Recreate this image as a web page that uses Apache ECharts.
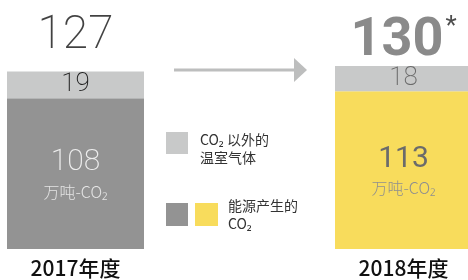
<!DOCTYPE html>
<html>
<head>
<meta charset="utf-8">
<script src="https://cdn.jsdelivr.net/npm/echarts@6/dist/echarts.min.js"></script>
<style>
  html, body { margin: 0; padding: 0; background: #fff; }
  #chart { width: 468px; height: 280px; }
</style>
</head>
<body>
<div id="chart"></div>
<script>
// 年度温室气体排放量 (万吨-CO2)
// 两个年度之间留两个空类目，给箭头和图例腾位置
const categories = ['2017年度', '', '', '2018年度'];
const energyCO2 = [108, '-', '-', 113];   // 能源产生的CO2
const otherGas = [19, '-', '-', 18];      // CO2以外的温室气体
const totals = [127, '-', '-', 130];
const totalMarks = ['', '', '', '*'];
const unit = '万吨-CO₂';

const digitFont = "Roboto, 'Noto Sans', sans-serif";
const cjkFont = "'Noto Sans CJK SC', 'Noto Sans', sans-serif";

const chart = echarts.init(document.getElementById('chart'));

const energyColors = ['#939393', null, null, '#f8dc5c'];
const energyText = [
  { n: '#eeeeee', u: '#e4e4e4', w: 200 },
  null, null,
  { n: '#6b6b6b', u: '#8f8f8f', w: 400 }
];

chart.setOption({
  animation: false,
  grid: { left: 20.83, right: 9.83, top: 39.5, bottom: 31 },
  xAxis: {
    type: 'category',
    data: categories,
    axisLine: { show: false },
    axisTick: { show: false },
    axisLabel: {
      interval: 0,
      margin: 9,
      fontFamily: cjkFont,
      fontSize: 21,
      fontWeight: 500,
      color: '#111'
    }
  },
  yAxis: { type: 'value', min: 0, max: 150, show: false },
  series: [
    {
      name: '能源产生的CO2',
      type: 'bar',
      stack: 'total',
      barWidth: 137,
      clip: false,
      data: energyCO2.map((v, i) => v === '-' ? v : ({
        value: v,
        itemStyle: { color: energyColors[i] },
        label: {
          show: true,
          position: 'inside',
          formatter: '{n|' + v + '}\n{u|' + unit + '}',
          rich: {
            n: { fontFamily: digitFont, fontSize: 30, fontWeight: energyText[i].w, color: energyText[i].n, lineHeight: 36 },
            u: { fontFamily: cjkFont, fontSize: 16, fontWeight: 300, color: energyText[i].u, lineHeight: 22 }
          }
        }
      }))
    },
    {
      name: 'CO2以外的温室气体',
      type: 'bar',
      stack: 'total',
      barWidth: 137,
      clip: false,
      itemStyle: { color: '#c8c9c9' },
      label: {
        show: true,
        position: 'inside',
        fontFamily: digitFont,
        fontSize: 26,
        fontWeight: 200
      },
      data: otherGas.map((v, i) => v === '-' ? v : ({
        value: v,
        label: { color: i === 0 ? '#222' : '#6b6b6b' }
      }))
    },
    {
      // 合计
      type: 'scatter',
      symbolSize: 0,
      silent: true,
      clip: false,
      data: totals.map((v, i) => v === '-' ? v : ({
        value: v,
        label: {
          show: true,
          position: 'top',
          distance: i === 0 ? 12 : -1,
          formatter: '{t' + i + '|' + v + '}' + (totalMarks[i] ? '{s|' + totalMarks[i] + '}' : ''),
          rich: {
            t0: { fontFamily: digitFont, fontSize: 46, fontWeight: 200, color: '#111' },
            t3: { fontFamily: digitFont, fontSize: 54, fontWeight: 'bold', color: '#6d6d6d' },
            s: { fontFamily: digitFont, fontSize: 26, color: '#222', verticalAlign: 'top', padding: [0, 0, 0, 2] }
          }
        }
      }))
    }
  ],
  graphic: [
    // 箭头
    { type: 'line', shape: { x1: 174, y1: 70, x2: 296, y2: 70 }, style: { stroke: '#bdbebe', lineWidth: 3 } },
    { type: 'polygon', shape: { points: [[294, 58], [307, 70], [294, 82]] }, style: { fill: '#bdbebe' } },
    // 图例
    { type: 'rect', shape: { x: 166, y: 132, width: 22, height: 22 }, style: { fill: '#c8c9c9' } },
    { type: 'text', x: 200, y: 131, style: { text: 'CO₂ 以外的\n温室气体', font: '14px ' + cjkFont, lineHeight: 18, fill: '#333' } },
    { type: 'rect', shape: { x: 166, y: 203, width: 22, height: 23 }, style: { fill: '#939393' } },
    { type: 'rect', shape: { x: 195, y: 203, width: 23, height: 23 }, style: { fill: '#f8dc5c' } },
    { type: 'text', x: 228, y: 197, style: { text: '能源产生的\nCO₂', font: '14px ' + cjkFont, lineHeight: 18, fill: '#333' } }
  ]
});
</script>
</body>
</html>
